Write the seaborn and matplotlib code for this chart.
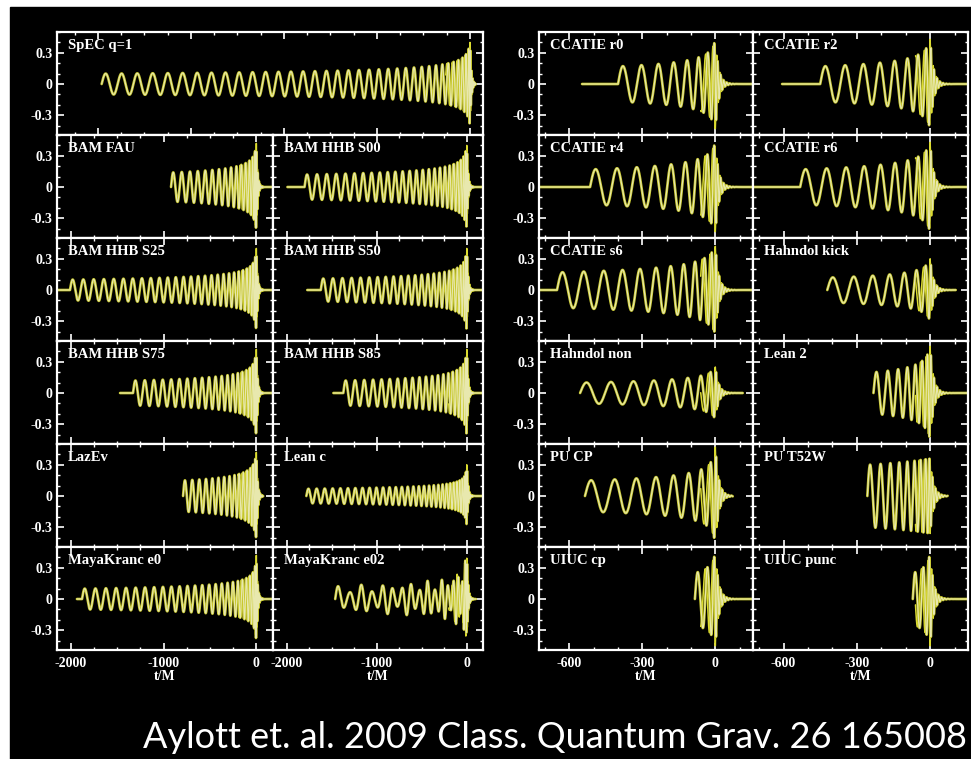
import numpy as np
import pandas as pd
import seaborn as sns
import matplotlib.pyplot as plt
from matplotlib.ticker import MultipleLocator, FixedLocator, FixedFormatter

# -------- DATA (times in M) --------
# left block: SpEC spans the top row, then 5 rows x 2 columns
LEFT_NAMES = ["SpEC q=1", "BAM FAU", "BAM HHB S00", "BAM HHB S25", "BAM HHB S50",
              "BAM HHB S75", "BAM HHB S85", "LazEv", "Lean c",
              "MayaKranc e0", "MayaKranc e02"]
LEFT_T_FLAT = [-3960, -920, -1990, -2150, -1770, -1470, -1480, -790, -1780, -1935, -1460]
LEFT_T_START = [-3960, -920, -1800, -2010, -1620, -1330, -1370, -790, -1780, -1880, -1460]
LEFT_CYCLES = [36, 15, 25, 27, 23, 20, 20, 15, 30, 25, 17]
LEFT_AMP0 = [0.10, 0.14, 0.12, 0.10, 0.11, 0.12, 0.12, 0.15, 0.07, 0.10, 0.08]
LEFT_AMP_PEAK = [0.40, 0.42, 0.40, 0.40, 0.40, 0.42, 0.42, 0.42, 0.30, 0.42, 0.42]
LEFT_T_END = [60, 180, 180, 180, 180, 180, 180, 75, 180, 180, 100]
LEFT_ECC = [0, 0, 0, 0, 0, 0, 0, 0, 0, 0, 0.35]

# right block: 6 rows x 2 columns
RIGHT_NAMES = ["CCATIE r0", "CCATIE r2", "CCATIE r4", "CCATIE r6", "CCATIE s6",
               "Hahndol kick", "Hahndol non", "Lean 2", "PU CP", "PU T52W",
               "UIUC cp", "UIUC punc"]
RIGHT_T_FLAT = [-548, -606, -725, -720, -725, -421, -556, -232, -536, -257, -84, -71]
RIGHT_T_START = [-400, -450, -515, -532, -651, -421, -556, -232, -536, -257, -84, -71]
RIGHT_CYCLES = [7.5, 8, 8.5, 9, 11, 7, 8, 7, 8, 8.5, 2.5, 2.5]
RIGHT_AMP0 = [0.17, 0.17, 0.17, 0.17, 0.17, 0.12, 0.10, 0.20, 0.15, 0.30, 0.25, 0.25]
RIGHT_AMP_PEAK = [0.43, 0.43, 0.43, 0.43, 0.42, 0.30, 0.25, 0.45, 0.47, 0.36, 0.45, 0.45]
RIGHT_T_END = [155, 155, 155, 155, 155, 105, 113, 155, 72, 72, 155, 155]

LEFT_XTICKS = [-2000, -1000, 0]
RIGHT_XTICKS = [-600, -300, 0]
Y_TICKS = [-0.3, 0, 0.3]
Y_LABELS = ["-0.3", "0", "0.3"]
CAPTION = "Aylott et. al. 2009 Class. Quantum Grav. 26 165008"

# -------- STYLE --------
sns.set_style("dark")
plt.rcParams["axes.unicode_minus"] = False
SERIF = ["Liberation Serif", "DejaVu Serif"]
HALO = "#c8c82e"
CORE = "#e8e8ae"
FILL = "#dcdc30"

W, H = 971, 759
fig = plt.figure(figsize=(W / 100, H / 100), dpi=100)
fig.patch.set_facecolor("white")
fig.add_artist(plt.Rectangle((10 / W, 0), 1, 1 - 7 / H, transform=fig.transFigure,
                             color="black", zorder=0))


def waveform(t_flat, t_start, n, a0, ap, t_end, ecc, dt, t_q):
    # chirp built from the read-off start, cycle count and amplitudes
    r4 = (a0 / ap) ** 4
    tau0 = max(-t_start * r4 / (1 - r4), 4.0)
    tp0 = 5.0
    tps = tp0 - t_start
    t = np.arange(t_flat, t_end, dt)
    h = np.zeros_like(t)
    q = np.zeros_like(t)
    ins = (t >= t_start) & (t <= 0)
    k = 2 * np.pi * n / (tps ** 0.625 - tp0 ** 0.625)
    phi = k * (tps ** 0.625 - (tp0 - t[ins]) ** 0.625)
    amp = ap * (tau0 / (tau0 - t[ins])) ** 0.25
    if ecc:
        amp = amp * (1 + ecc * np.cos(phi / 2.3))
    h[ins] = amp * np.sin(phi)
    q[ins] = amp * np.cos(phi)
    rd = t > 0
    env = ap * np.exp(-t[rd] / 14)
    h[rd] = env * np.sin(2 * np.pi * n + 0.5 * t[rd])
    q[rd] = env * np.cos(2 * np.pi * n + 0.5 * t[rd])
    df = pd.DataFrame({"t": t, "h": h})
    keep = (t >= max(t_q, t_start)) & (t <= 60)
    dq = pd.DataFrame({"t": t[keep], "h": q[keep]})
    return df, dq


def panel(l, t, r, b, xlim, name, df, dq, xmajor, xminor):
    ax = fig.add_axes([l / W, 1 - b / H, (r - l) / W, (b - t) / H])
    ax.set_facecolor("black")
    sns.lineplot(data=dq, x="t", y="h", ax=ax, color=FILL, linewidth=1.1,
                 estimator=None, sort=False)
    sns.lineplot(data=df, x="t", y="h", ax=ax, color=HALO, linewidth=1.9,
                 estimator=None, sort=False)
    sns.lineplot(data=df, x="t", y="h", ax=ax, color=CORE, linewidth=0.8,
                 estimator=None, sort=False)
    ax.set_xlim(*xlim)
    ax.set_ylim(-0.49, 0.5)
    ax.grid(False)
    for s in ax.spines.values():
        s.set_color("white")
        s.set_linewidth(1.6)
        s.set_visible(True)
    ax.xaxis.set_major_locator(MultipleLocator(xmajor))
    ax.xaxis.set_minor_locator(MultipleLocator(xminor))
    ax.yaxis.set_major_locator(FixedLocator(Y_TICKS))
    ax.yaxis.set_minor_locator(MultipleLocator(0.1))
    ax.tick_params(which="both", direction="in", colors="white", top=True, right=True,
                   bottom=True, left=True, labelbottom=False, labelleft=False)
    ax.tick_params(which="major", length=5, width=1.2)
    ax.tick_params(which="minor", length=2.5, width=1)
    ax.set_xlabel("")
    ax.set_ylabel("")
    ax.text(11 / (r - l), 0.93, name, transform=ax.transAxes, ha="left", va="top",
            color="white", fontsize=10.5, fontweight="bold", family=SERIF)
    return ax


def label_y(ax):
    ax.yaxis.set_major_formatter(FixedFormatter(Y_LABELS))
    ax.tick_params(axis="y", labelleft=True, pad=3)
    for lb in ax.get_yticklabels():
        lb.set_family(SERIF)
        lb.set_fontweight("bold")
        lb.set_fontsize(10)


def label_x(ax, ticks):
    ax.xaxis.set_major_locator(FixedLocator(ticks))
    ax.xaxis.set_major_formatter(FixedFormatter([str(v) for v in ticks]))
    ax.tick_params(axis="x", labelbottom=True, pad=5)
    for lb in ax.get_xticklabels():
        lb.set_family(SERIF)
        lb.set_fontweight("bold")
        lb.set_fontsize(10)
    ax.set_xlabel("t/M", color="white", fontsize=10, fontweight="bold",
                  family=SERIF, labelpad=0)


ROW_Y = [32, 135, 238, 341, 444, 547, 650]
LEFT_X = [57, 273, 483]
RIGHT_X = [539, 753, 968]

# top wide panel
df, dq = waveform(LEFT_T_FLAT[0], LEFT_T_START[0], LEFT_CYCLES[0], LEFT_AMP0[0],
                  LEFT_AMP_PEAK[0], LEFT_T_END[0], LEFT_ECC[0], 1.0, -260)
ax = panel(LEFT_X[0], ROW_Y[0], LEFT_X[2], ROW_Y[1], (-4440, 140), LEFT_NAMES[0],
           df, dq, 1000, 250)
label_y(ax)

for i in range(1, len(LEFT_NAMES)):
    row, col = (i - 1) // 2 + 1, (i - 1) % 2
    df, dq = waveform(LEFT_T_FLAT[i], LEFT_T_START[i], LEFT_CYCLES[i], LEFT_AMP0[i],
                      LEFT_AMP_PEAK[i], LEFT_T_END[i], LEFT_ECC[i], 0.5, -200)
    ax = panel(LEFT_X[col], ROW_Y[row], LEFT_X[col + 1], ROW_Y[row + 1],
               (-2150, 180), LEFT_NAMES[i], df, dq, 1000, 250)
    if col == 0:
        label_y(ax)
    if row == 5:
        label_x(ax, LEFT_XTICKS)

for i in range(len(RIGHT_NAMES)):
    row, col = i // 2, i % 2
    df, dq = waveform(RIGHT_T_FLAT[i], RIGHT_T_START[i], RIGHT_CYCLES[i], RIGHT_AMP0[i],
                      RIGHT_AMP_PEAK[i], RIGHT_T_END[i], 0, 0.25, -60)
    ax = panel(RIGHT_X[col], ROW_Y[row], RIGHT_X[col + 1], ROW_Y[row + 1],
               (-725, 155), RIGHT_NAMES[i], df, dq, 300, 100)
    if col == 0:
        label_y(ax)
    if row == 5:
        label_x(ax, RIGHT_XTICKS)

fig.text(143 / W, 1 - 748 / H, CAPTION, color="white", fontsize=26,
         family=["Lato", "DejaVu Sans"], ha="left", va="baseline")

fig.savefig("out.png", dpi=100, facecolor=fig.get_facecolor())
